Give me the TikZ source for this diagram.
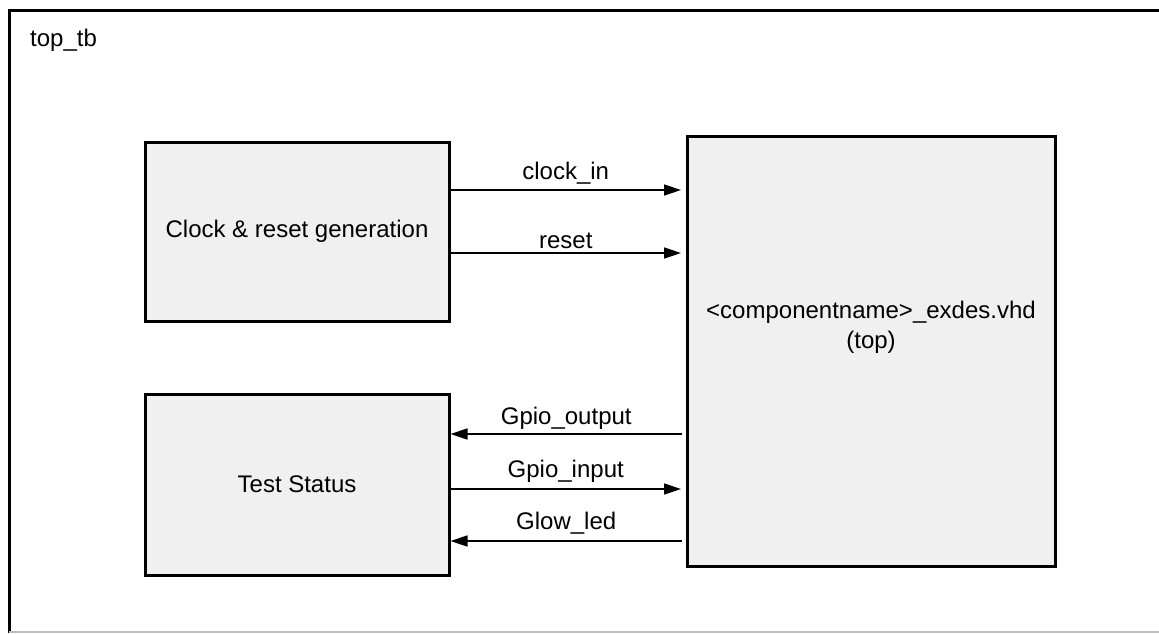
\documentclass[tikz,border=0pt]{standalone}
\usepackage{fontspec}
\setmainfont{Liberation Sans}
\usetikzlibrary{arrows.meta}
\definecolor{boxfill}{HTML}{F0F0F0}
\definecolor{edgegray}{HTML}{BDBDBD}
\begin{document}
\begin{tikzpicture}[x=1pt,y=-1pt,
  blk/.style={draw=black,line width=3pt,fill=boxfill,inner sep=0pt},
  sig/.style={line width=1.6pt,-{Triangle[length=17pt,width=11pt]}},
  lbl/.style={inner sep=0pt,anchor=base},
  every node/.style={font=\fontsize{24}{29}\selectfont}]
\useasboundingbox (0,0) rectangle (1159,633);
\fill[white] (0,0) rectangle (1159,633);
% outer frame (clipped at right and bottom)
\draw[line width=3pt] (9,633) -- (9,10) -- (1159,10);
\draw[edgegray,line width=1.5pt] (9,632) -- (1159,632);
\node[anchor=base west,inner sep=0pt] (title) at (30,46) {top\_tb};
% blocks
\node[blk,minimum width=304pt,minimum height=179pt] (clk) at (297,231.5) {Clock \& reset generation};
\node[blk,minimum width=304pt,minimum height=181pt] (ts) at (297,484.5) {Test Status};
\node[blk,minimum width=368pt,minimum height=430pt] (top) at (871,351) {};
\node[inner sep=0pt,anchor=base] (topname) at (871,318) {<componentname>\_exdes.vhd};
\node[inner sep=0pt,anchor=base] (toptag) at (871,348) {(top)};
% arrow end coordinates near the top block
\coordinate (ci) at (681,190);
\coordinate (rs) at (681,253);
\coordinate (go) at (682,434);
\coordinate (gi) at (681,489);
\coordinate (gl) at (682,541);
\draw[sig] (clk.east |- ci) -- (ci) node[lbl,midway,yshift=11pt] {clock\_in};
\draw[sig] (clk.east |- rs) -- (rs) node[lbl,midway,yshift=5pt] {reset};
\draw[sig] (go) -- (ts.east |- go) node[lbl,midway,yshift=10pt] {Gpio\_output};
\draw[sig] (ts.east |- gi) -- (gi) node[lbl,midway,yshift=12pt] {Gpio\_input};
\draw[sig] (gl) -- (ts.east |- gl) node[lbl,midway,yshift=12pt] {Glow\_led};
\end{tikzpicture}
\end{document}
